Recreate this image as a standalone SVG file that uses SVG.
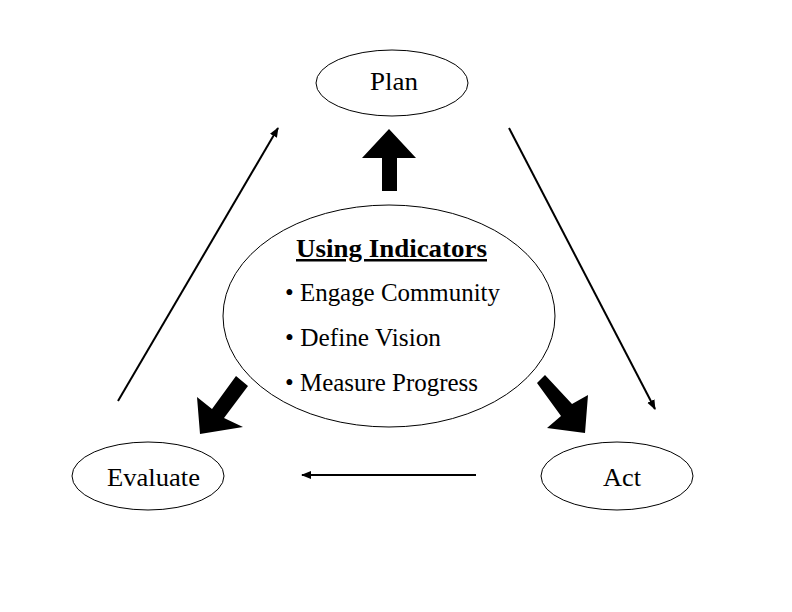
<svg xmlns="http://www.w3.org/2000/svg" width="792" height="612" viewBox="0 0 792 612">
<style>
.node{fill:#fff;stroke:#000;stroke-width:1}
.t{font-family:"Liberation Serif","Times New Roman",serif;font-size:25px;fill:#000}
.thin{stroke:#000;stroke-width:2;fill:none}
.big{fill:#000}
</style>
<defs>
<marker id="ah" viewBox="0 0 10 10" refX="9" refY="5" markerWidth="5" markerHeight="5" orient="auto" markerUnits="strokeWidth">
<path d="M0,1 L10,5 L0,9 z" fill="#000"/>
</marker>
</defs>
<rect width="792" height="612" fill="#fff"/>
<g id="plan"><ellipse class="node" cx="392" cy="83" rx="76" ry="33"/><text class="t" x="370" y="90" font-size="26" textLength="48" lengthAdjust="spacingAndGlyphs">Plan</text></g>
<g id="evaluate"><ellipse class="node" cx="148" cy="476" rx="76" ry="34"/><text class="t" x="107" y="486" textLength="93" lengthAdjust="spacingAndGlyphs">Evaluate</text></g>
<g id="act"><ellipse class="node" cx="617" cy="476" rx="76" ry="34"/><text class="t" x="603" y="486" textLength="38" lengthAdjust="spacingAndGlyphs">Act</text></g>
<g id="center"><ellipse class="node" cx="389" cy="316" rx="166" ry="111"/>
<text class="t" x="296" y="257" font-weight="bold" text-decoration="underline" textLength="191" lengthAdjust="spacingAndGlyphs">Using Indicators</text>
<text class="t" x="285" y="301" textLength="215" lengthAdjust="spacingAndGlyphs">• Engage Community</text>
<text class="t" x="285" y="346" textLength="156" lengthAdjust="spacingAndGlyphs">• Define Vision</text>
<text class="t" x="285" y="391" textLength="193" lengthAdjust="spacingAndGlyphs">• Measure Progress</text>
</g>
<g id="connectors">
<line class="thin" x1="118" y1="401" x2="278" y2="128" marker-end="url(#ah)"/>
<line class="thin" x1="509" y1="128" x2="655" y2="409" marker-end="url(#ah)"/>
<line class="thin" x1="476" y1="475" x2="302" y2="475" marker-end="url(#ah)"/>
<polygon class="big" points="389,129 416,158 397,158 397,191 382,191 382,158 362,158"/>
<polygon class="big" points="200,434 197,397 212,409 236,376 248,386 224,418 243,427"/>
<polygon class="big" points="585,433 547,428 561,416 537,383 545,375 572,404 588,395"/>
</g>
</svg>
